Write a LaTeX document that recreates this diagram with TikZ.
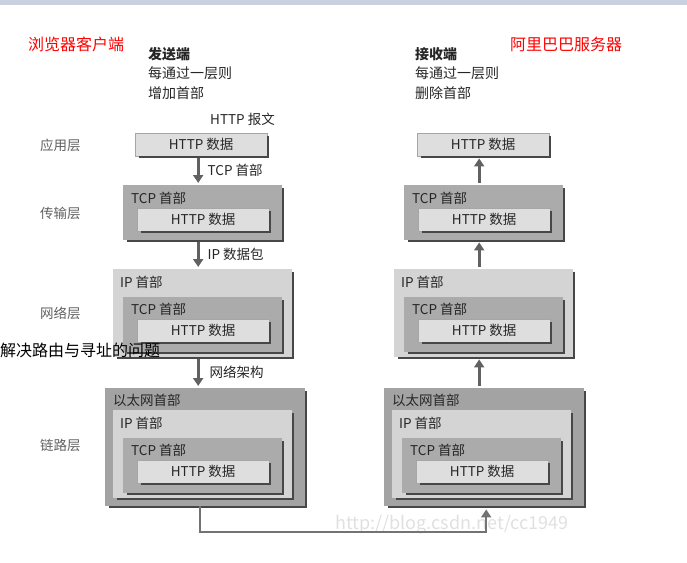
\documentclass[tikz,border=0pt]{standalone}
\usepackage{fontspec}
\setmainfont{Noto Sans CJK SC}
\usetikzlibrary{arrows.meta,positioning,calc}
\definecolor{barblue}{HTML}{C9D1E1}

\begin{document}
\begin{tikzpicture}[
    x=1pt, y=-1pt,
    every node/.style={inner sep=0pt, text=black!85, font=\fontsize{13.5}{16}\selectfont},
    shadowline/.style={draw=black!72, line width=2pt},
    boxedge/.style={append after command={([xshift=4pt,yshift=-1pt]\tikzlastnode.south west)
        edge[shadowline, to path={-| (\tikztotarget)}] ([xshift=1pt,yshift=-3pt]\tikzlastnode.north east)}},
    httpbox/.style={boxedge, fill=black!13, draw=black!35, line width=0.4pt, anchor=north west, minimum width=132pt, minimum height=23pt},
    tcpbox/.style={boxedge, fill=black!33, anchor=north west, minimum width=159pt, minimum height=55pt},
    ipbox/.style={boxedge, fill=black!17, anchor=north west, minimum width=179pt, minimum height=88pt},
    ethbox/.style={boxedge, fill=black!36, anchor=north west, minimum width=200pt, minimum height=118pt},
    hdr/.style={anchor=west},
    layer/.style={anchor=west, text=black!62},
    redlabel/.style={anchor=west, text=red, font=\fontsize{16}{18}\selectfont},
    flow/.style={-{Triangle[width=10pt,length=8pt]}, line width=3pt, draw=black!62, shorten <=2pt, shorten >=2pt},
    wire/.style={-{Triangle[width=10pt,length=8pt]}, line width=2pt, draw=black!55, shorten >=3pt}
]
    \useasboundingbox (0,0) rectangle (687,562);
    \fill[barblue] (0,0) rectangle (687,5);

    % Titles
    \node[redlabel] (client) at (28,44) {浏览器客户端};
    \node[redlabel] (server) at (510,44) {阿里巴巴服务器};
    \node[anchor=north west, align=left, font=\fontsize{14}{19.5}\selectfont] (sendnote) at (148,47) {\textbf{发送端}\\每通过一层则\\增加首部};
    \node[anchor=north west, align=left, font=\fontsize{14}{19.5}\selectfont] (recvnote) at (415,47) {\textbf{接收端}\\每通过一层则\\删除首部};

    % Layer names
    \node[layer] (applayer) at (40,145) {应用层};
    \node[layer] (translayer) at (40,213) {传输层};
    \node[layer] (netlayer) at (40,313) {网络层};
    \node[layer] (linklayer) at (40,445) {链路层};

    % Sender: application
    \node[httpbox] (appL) at (135,133) {HTTP 数据};
    \node[anchor=west] (msgL) at (210,119) {HTTP 报文};

    % Sender: transport
    \node[tcpbox] (tcpT) at (123,185) {};
    \node[hdr] (tcpTh) at ([xshift=8pt,yshift=-13pt]tcpT.north west) {TCP 首部};
    \node[httpbox] (httpT) at ([xshift=14pt,yshift=-23pt]tcpT.north west) {HTTP 数据};

    % Sender: network
    \node[ipbox] (ipN) at (113,269) {};
    \node[hdr] (ipNh) at ([xshift=7pt,yshift=-13pt]ipN.north west) {IP 首部};
    \node[tcpbox] (tcpN) at ([xshift=10pt,yshift=-28pt]ipN.north west) {};
    \node[hdr] (tcpNh) at ([xshift=8pt,yshift=-12pt]tcpN.north west) {TCP 首部};
    \node[httpbox] (httpN) at ([xshift=14pt,yshift=-22pt]tcpN.north west) {HTTP 数据};

    % Sender: link
    \node[ethbox] (ethL) at (105,388) {};
    \node[hdr] (ethLh) at ([xshift=8pt,yshift=-12pt]ethL.north west) {以太网首部};
    \node[ipbox] (ipL) at ([xshift=8pt,yshift=-22pt]ethL.north west) {};
    \node[hdr] (ipLh) at ([xshift=7pt,yshift=-13pt]ipL.north west) {IP 首部};
    \node[tcpbox] (tcpL) at ([xshift=10pt,yshift=-28pt]ipL.north west) {};
    \node[hdr] (tcpLh) at ([xshift=8pt,yshift=-12pt]tcpL.north west) {TCP 首部};
    \node[httpbox] (httpL) at ([xshift=14pt,yshift=-22pt]tcpL.north west) {HTTP 数据};

    % Sender arrows
    \draw[flow] ([xshift=-3pt]appL.south) -- ([xshift=-3pt]appL.south |- tcpT.north)
        node[midway, right=8pt] (tcplab) {TCP 首部};
    \draw[flow] ([xshift=-3pt]appL.south |- tcpT.south) -- ([xshift=-3pt]appL.south |- ipN.north)
        node[midway, right=8pt] (iplab) {IP 数据包};
    \draw[flow] ([xshift=-3pt]appL.south |- ipN.south) -- ([xshift=-3pt]appL.south |- ethL.north)
        node[midway, right=10pt] (ethlab) {网络架构};

    % Receiver: application
    \node[httpbox] (appR) at (417,133) {HTTP 数据};

    % Receiver: transport
    \node[tcpbox] (tcpTR) at (404,185) {};
    \node[hdr] (tcpTRh) at ([xshift=8pt,yshift=-13pt]tcpTR.north west) {TCP 首部};
    \node[httpbox] (httpTR) at ([xshift=14pt,yshift=-23pt]tcpTR.north west) {HTTP 数据};

    % Receiver: network
    \node[ipbox] (ipNR) at (394,269) {};
    \node[hdr] (ipNRh) at ([xshift=7pt,yshift=-13pt]ipNR.north west) {IP 首部};
    \node[tcpbox] (tcpNR) at ([xshift=10pt,yshift=-28pt]ipNR.north west) {};
    \node[hdr] (tcpNRh) at ([xshift=8pt,yshift=-12pt]tcpNR.north west) {TCP 首部};
    \node[httpbox] (httpNR) at ([xshift=14pt,yshift=-22pt]tcpNR.north west) {HTTP 数据};

    % Receiver: link
    \node[ethbox] (ethR) at (384,388) {};
    \node[hdr] (ethRh) at ([xshift=8pt,yshift=-12pt]ethR.north west) {以太网首部};
    \node[ipbox] (ipR) at ([xshift=8pt,yshift=-22pt]ethR.north west) {};
    \node[hdr] (ipRh) at ([xshift=7pt,yshift=-13pt]ipR.north west) {IP 首部};
    \node[tcpbox] (tcpR) at ([xshift=10pt,yshift=-28pt]ipR.north west) {};
    \node[hdr] (tcpRh) at ([xshift=8pt,yshift=-12pt]tcpR.north west) {TCP 首部};
    \node[httpbox] (httpR) at ([xshift=14pt,yshift=-22pt]tcpR.north west) {HTTP 数据};

    % Receiver arrows
    \draw[flow] ([xshift=-4pt]appR.south |- tcpTR.north) -- ([xshift=-4pt]appR.south);
    \draw[flow] ([xshift=-4pt]appR.south |- ipNR.north) -- ([xshift=-4pt]appR.south |- tcpTR.south);
    \draw[flow] ([xshift=-4pt]appR.south |- ethR.north) -- ([xshift=-4pt]appR.south |- ipNR.south);

    % Physical link
    \node[anchor=west, text=black!12, font=\fontsize{18}{20}\selectfont] (mark) at (335,525) {http://blog.csdn.net/cc1949};
    \coordinate (wireturn) at ([xshift=-5pt,yshift=-26pt]ethL.south);
    \draw[wire] ([xshift=-5pt]ethL.south) -- (wireturn) -| ([xshift=2pt]ethR.south);

    % Note on top
    \node[anchor=west, text=black, font=\fontsize{16}{18}\selectfont] (routenote) at (0,350) {解决路由与寻址的问题};
\end{tikzpicture}
\end{document}
